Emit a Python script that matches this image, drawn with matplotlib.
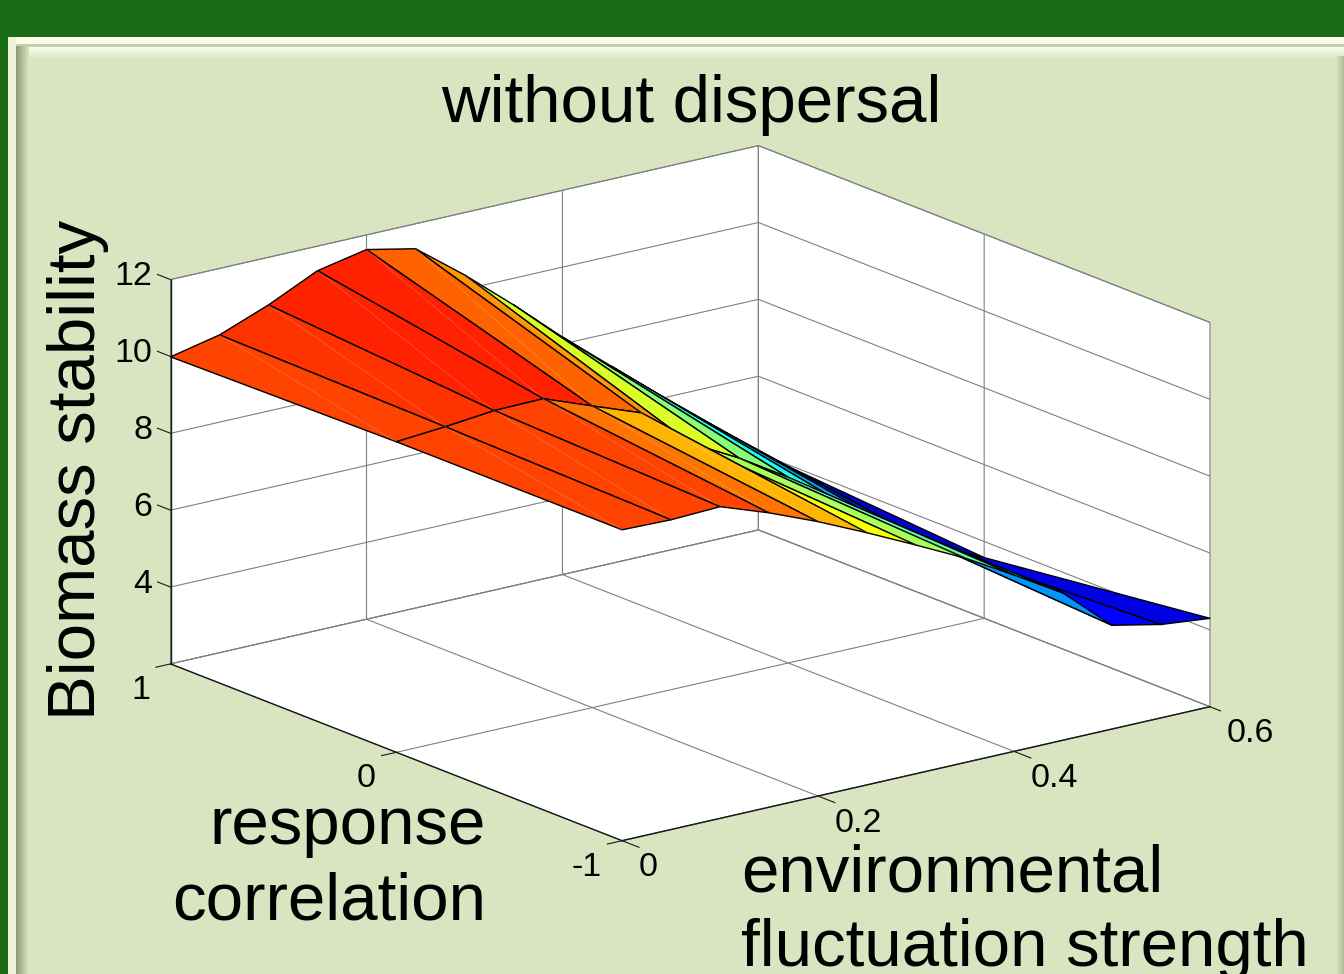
import numpy as np
import matplotlib
matplotlib.use("Agg")
import matplotlib.pyplot as plt
from matplotlib.colors import LinearSegmentedColormap
from matplotlib.patches import Rectangle

plt.rcParams['font.family'] = ['Liberation Sans', 'DejaVu Sans']
plt.rcParams['grid.color'] = '#808080'
plt.rcParams['grid.linewidth'] = 0.8

# data
env_strength = [0, 0.05, 0.1, 0.15, 0.2, 0.25, 0.3, 0.35, 0.4, 0.45, 0.5, 0.55, 0.6]
response_corr = [-1, 0, 1]
stability_neg = [10.09, 10.06, 10.11, 9.66, 9.14, 8.56, 7.95, 7.32, 6.59, 5.83, 4.70, 4.43, 4.30]
stability_zero = [10.08, 10.18, 10.31, 10.33, 9.85, 9.38, 8.30, 7.62, 6.83, 5.94, 5.05, 4.16, 3.58]
stability_pos = [9.99, 10.27, 10.76, 11.36, 11.62, 11.35, 10.38, 9.31, 8.18, 7.13, 6.08, 5.06, 4.01]

x_ticks = [0, 0.2, 0.4, 0.6]
y_ticks = [-1, 0, 1]
z_ticks = [4, 6, 8, 10, 12]
x_tick_labels = ['0', '0.2', '0.4', '0.6']
y_tick_labels = ['-1', '0', '1']
z_tick_labels = ['4', '6', '8', '10', '12']

W, H = 1344, 974
fig = plt.figure(figsize=(W / 100, H / 100), dpi=100, facecolor='#d9e4c0')

# slide background
bg = fig.add_axes([0, 0, 1, 1], zorder=-1)
bg.axis('off')
sage = '#d9e4c0'
bg.add_patch(Rectangle((0, 0), W, 37, color='#1a6b18', lw=0))
bg.add_patch(Rectangle((0, 0), 8, H, color='#1a6b18', lw=0))
bg.add_patch(Rectangle((8, 37), W - 8, 7, color='#fbfde8', lw=0))
bg.add_patch(Rectangle((8, 37), 8, H - 37, color='#eef2d8', lw=0))
top_grad = LinearSegmentedColormap.from_list('top', ['#fffff2', sage])
bg.imshow(np.linspace(0, 1, 32).reshape(-1, 1), extent=(16, W, 60, 46), cmap=top_grad, aspect='auto', zorder=2)
bg.add_patch(Rectangle((16, 44), W - 16, 2.5, color='#c8d0aa', lw=0, zorder=3))
left_grad = LinearSegmentedColormap.from_list('left', ['#8f9678', sage])
bg.imshow(np.linspace(0, 1, 32).reshape(1, -1), extent=(16, 29, H, 46), cmap=left_grad, aspect='auto', zorder=4)
right_grad = LinearSegmentedColormap.from_list('right', [sage, '#b4ba9c'])
bg.imshow(np.linspace(0, 1, 16).reshape(1, -1), extent=(1336, W, H, 56), cmap=right_grad, aspect='auto', zorder=4)
bg.set_xlim(0, W)
bg.set_ylim(H, 0)

# 3d axes, placed so the box lands where it is in the picture
S = 1091
ax = fig.add_axes([130 / W, -79.4 / H, S / W, S / H], projection='3d')
ax.set_proj_type('ortho')
ax.view_init(elev=17.38, azim=-127.34)
ax.set_box_aspect((740, 745, 403), zoom=1)
ax.patch.set_alpha(0)

# matlab's jet, matplotlib's own one is not the same
matlab_jet = LinearSegmentedColormap.from_list(
    'matlab_jet',
    [(0, (0, 0, 0.5625)), (0.125, (0, 0, 1)), (0.375, (0, 1, 1)),
     (0.625, (1, 1, 0)), (0.875, (1, 0, 0)), (1, (0.5, 0, 0))], N=64)

X, Y = np.meshgrid(env_strength, response_corr)
Z = np.array([stability_neg, stability_zero, stability_pos])
colors = matlab_jet((Z - Z.min()) / (Z.max() - Z.min()))
ax.plot_surface(X, Y, Z, rstride=1, cstride=1, facecolors=colors, shade=False,
                edgecolor='black', linewidth=1.0)

# faint seams across the quads
for k in range(6):
    ax.plot([X[2, k + 1], X[1, k]], [Y[2, k + 1], Y[1, k]], [Z[2, k + 1], Z[1, k]],
            color='white', alpha=0.2, lw=0.6, zorder=100)
for k in range(8):
    ax.plot([X[1, k + 1], X[0, k]], [Y[1, k + 1], Y[0, k]], [Z[1, k + 1], Z[0, k]],
            color='white', alpha=0.2, lw=0.6, zorder=100)

for axis in (ax.xaxis, ax.yaxis, ax.zaxis):
    axis.set_pane_color('white')
    axis.pane.set_edgecolor('#808080')
    axis.pane.set_linewidth(0.8)
    axis.line.set_color((0, 0, 0, 0))
ax.set_xticks(x_ticks)
ax.set_yticks(y_ticks)
ax.set_zticks(z_ticks)
ax.set_xticklabels([])
ax.set_yticklabels([])
ax.set_zticklabels([])
ax.tick_params(axis='x', color=(0, 0, 0, 0))
ax.tick_params(axis='y', color=(0, 0, 0, 0))
ax.tick_params(axis='z', color=(0, 0, 0, 0))

# front edges and ticks like matlab draws them
x0, x1 = 0, 0.6
y0, y1 = -1, 1
z0, z1 = 2, 12
ink = '#1a1a1a'
ax.plot([x0, x1], [y0, y0], [z0, z0], color=ink, lw=1)
ax.plot([x0, x0], [y0, y1], [z0, z0], color=ink, lw=1)
ax.plot([x0, x0], [y1, y1], [z0, z1], color=ink, lw=1)
for t in x_ticks:
    ax.plot([t, t], [y0, y0 - 0.075], [z0, z0], color=ink, lw=0.8)
for t in y_ticks:
    ax.plot([x0, x0 - 0.015], [t, t], [z0, z0], color=ink, lw=0.8)
for t in z_ticks:
    ax.plot([x0, x0], [y1, y1 + 0.058], [t, t], color=ink, lw=0.8)

for t, s in zip(x_ticks, x_tick_labels):
    ax.text(t, y0 - 0.075, z0 - 0.53, s, fontsize=24.5, ha='left', va='center')
for t, s in zip(y_ticks, y_tick_labels):
    ax.text(x0 - 0.021, t, z0 - 0.57, s, fontsize=24.5, ha='right', va='center')
for t, s in zip(z_ticks, z_tick_labels):
    ax.text(x0, y1 + 0.08, t - 0.11, s, fontsize=24.5, ha='right', va='center')

ax.set_xlim(x0, x1)
ax.set_ylim(y0, y1)
ax.set_zlim(z0, z1)


def put(px, py, s, **kw):
    fig.text(px / W, 1 - py / H, s, fontsize=48.4, va='baseline', **kw)


put(691, 122, 'without dispersal', ha='center')
put(486, 844, 'response', ha='right')
put(486, 919, 'correlation', ha='right')
put(741, 891, 'environmental', ha='left')
put(741, 966, 'fluctuation strength', ha='left')
put(95, 470, 'Biomass stability', ha='center', rotation=90, rotation_mode='anchor')

fig.savefig('out.png', dpi=100)
